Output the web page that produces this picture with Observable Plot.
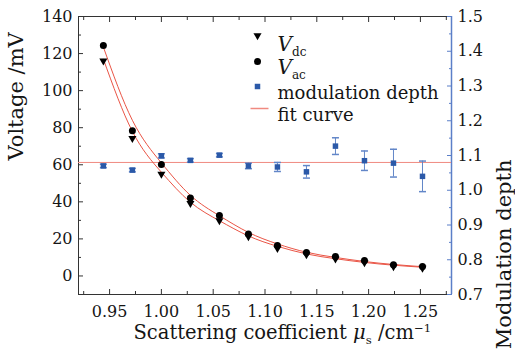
<!DOCTYPE html>
<html><head><meta charset="utf-8">
<script src="https://cdn.jsdelivr.net/npm/d3@7"></script>
<script src="https://cdn.jsdelivr.net/npm/@observablehq/plot@0.6"></script>
<style>
html,body{margin:0;padding:0;background:#fff;}
#chart{width:515px;height:352px;}
</style></head><body><div id="chart"></div>
<script>
// ---- data ----
const mu       = [0.944, 0.972, 1.000, 1.028, 1.056, 1.084, 1.112, 1.140, 1.168, 1.196, 1.224, 1.252];
const vdc      = [116.1, 74.2, 55.0, 39.2, 29.9, 21.2, 14.9, 11.5, 9.2, 7.2, 5.0, 4.3];
const vac      = [124.4, 78.4, 60.1, 42.1, 32.6, 22.7, 16.4, 12.6, 10.5, 8.3, 6.0, 5.1];
const modDepth = [1.070, 1.058, 1.099, 1.086, 1.101, 1.070, 1.067, 1.053, 1.127, 1.085, 1.078, 1.040];
const modErr   = [0.005, 0.005, 0.006, 0.005, 0.005, 0.008, 0.013, 0.018, 0.024, 0.028, 0.040, 0.044];
const fitAc    = [123.5, 84.0, 61.0, 43.5, 32.5, 23.5, 17.3, 12.8, 10.0, 7.8, 6.2, 5.0];
const fitDc    = [117.0, 78.0, 56.0, 39.8, 29.8, 21.6, 16.0, 11.9, 9.3, 7.3, 5.8, 4.7];
const modFit   = 1.08;

const xTicks     = [0.95, 1.00, 1.05, 1.10, 1.15, 1.20, 1.25];
const xMinor     = [0.925, 0.975, 1.025, 1.075, 1.125, 1.175, 1.225, 1.275];
const yTicks     = [0, 20, 40, 60, 80, 100, 120, 140];
const yMinor     = [-10, 10, 30, 50, 70, 90, 110, 130];
const rTicks     = [0.7, 0.8, 0.9, 1.0, 1.1, 1.2, 1.3, 1.4, 1.5];
const rMinor     = [0.75, 0.85, 0.95, 1.05, 1.15, 1.25, 1.35, 1.45];
const xDomain = [0.92, 1.28];
const yDomain = [-10, 140];
const rDomain = [0.7, 1.5];

const xTitle = "Scattering coefficient <i>μ</i><sub>s</sub> /cm<sup>−1</sup>";
const yTitle = "Voltage /mV";
const rTitle = "Modulation depth";
const legendDc = "<i>V</i><sub>dc</sub>";
const legendAc = "<i>V</i><sub>ac</sub>";
const legendMod = "modulation depth";
const legendFit = "fit curve";

// ---- rendering ----
const toV = m => yDomain[0] + (m - rDomain[0]) / (rDomain[1] - rDomain[0]) * (yDomain[1] - yDomain[0]);
const fromV = v => rDomain[0] + (v - yDomain[0]) / (yDomain[1] - yDomain[0]) * (rDomain[1] - rDomain[0]);

const data = mu.map((x, i) => ({x, dc: vdc[i], ac: vac[i], m: modDepth[i], e: modErr[i], fa: fitAc[i], fd: fitDc[i]}));

const blue = "#2b59a8", errBlue = "#6286c8", axisBlue = "#5b7fc8", red = "#ea5546", axisCol = "#333", txt = "#151515";
const hline = w => ({draw(ctx) { ctx.moveTo(-w / 2, 0); ctx.lineTo(w / 2, 0); }});
const blank = () => "";

const chart = Plot.plot({
  width: 515, height: 352,
  marginLeft: 78, marginRight: 64, marginTop: 16, marginBottom: 58,
  style: {fontFamily: "DejaVu Serif", fontSize: "16px", color: txt, background: "white"},
  x: {domain: xDomain},
  y: {domain: yDomain},
  marks: [
    Plot.frame({stroke: axisCol}),
    Plot.ruleX([xDomain[1]], {stroke: axisBlue, strokeWidth: 1.5}),
    Plot.ruleY([toV(modFit)], {stroke: "#f08a80"}),
    Plot.line(data, {x: "x", y: "fa", curve: "natural", stroke: red, strokeWidth: 1}),
    Plot.line(data, {x: "x", y: "fd", curve: "natural", stroke: red, strokeWidth: 1}),
    Plot.ruleX(data, {x: "x", y1: d => toV(d.m - d.e), y2: d => toV(d.m + d.e), stroke: errBlue}),
    Plot.dot(data, {x: "x", y: d => toV(d.m - d.e), symbol: hline(7), stroke: errBlue, fill: "none"}),
    Plot.dot(data, {x: "x", y: d => toV(d.m + d.e), symbol: hline(7), stroke: errBlue, fill: "none"}),
    Plot.dot(data, {x: "x", y: d => toV(d.m), symbol: "square", r: 3.1, fill: blue}),
    Plot.dot(data, {x: "x", y: "ac", r: 3.5, fill: "black"}),
    Plot.dot(data, {x: "x", y: "dc", symbol: "triangle", rotate: 180, r: 3, fill: "black"}),

    Plot.axisY(yTicks, {anchor: "left", tickSize: -5, tickPadding: 11, stroke: axisCol, fill: txt, fontSize: 16, label: null}),
    Plot.axisY(yMinor, {anchor: "left", tickSize: -3, tickFormat: blank, stroke: axisCol, label: null}),
    Plot.axisX(xTicks, {anchor: "bottom", tickSize: -5, tickPadding: 16, tickFormat: d3.format(".2f"), stroke: axisCol, fill: txt, fontSize: 16, label: null}),
    Plot.axisX(xMinor, {anchor: "bottom", tickSize: -3, tickFormat: blank, stroke: axisCol, label: null}),
    Plot.axisX(xTicks, {anchor: "top", tickSize: -5, tickFormat: blank, stroke: axisCol, label: null}),
    Plot.axisX(xMinor, {anchor: "top", tickSize: -3, tickFormat: blank, stroke: axisCol, label: null}),
    Plot.axisY(rTicks.map(toV), {anchor: "right", tickSize: -5, tickPadding: 11, tickFormat: v => fromV(v).toFixed(1), stroke: axisBlue, fill: txt, fontSize: 16, label: null}),
    Plot.axisY(rMinor.map(toV), {anchor: "right", tickSize: -3, tickFormat: blank, stroke: axisBlue, label: null}),

    // legend
    Plot.dot([0], {frameAnchor: "top-left", dx: 179, dy: 19, symbol: "triangle", rotate: 180, r: 3, fill: "black"}),
    Plot.dot([0], {frameAnchor: "top-left", dx: 179, dy: 45, r: 3.5, fill: "black"}),
    Plot.dot([0], {frameAnchor: "top-left", dx: 179, dy: 70, symbol: "square", r: 3.1, fill: blue}),
    Plot.dot([0], {frameAnchor: "top-left", dx: 181, dy: 92, symbol: hline(18), stroke: "#f08a80", fill: "none"}),
    Plot.text([legendDc], {frameAnchor: "top-left", dx: 199, dy: 20, textAnchor: "start", fontSize: 20, fill: txt, className: "rich"}),
    Plot.text([legendAc], {frameAnchor: "top-left", dx: 199, dy: 43, textAnchor: "start", fontSize: 20, fill: txt, className: "rich"}),
    Plot.text([legendMod], {frameAnchor: "top-left", dx: 199, dy: 70, textAnchor: "start", fontSize: 18, fill: txt}),
    Plot.text([legendFit], {frameAnchor: "top-left", dx: 199, dy: 92, textAnchor: "start", fontSize: 18, fill: txt}),

    // titles
    Plot.text([yTitle], {frameAnchor: "left", dx: -62, dy: 5, rotate: -90, fontSize: 21, fill: txt, letterSpacing: "0.6px"}),
    Plot.text([rTitle], {frameAnchor: "right", dx: 53, dy: 4, rotate: -90, fontSize: 21, fill: txt, letterSpacing: "0.6px"}),
    Plot.text([xTitle], {frameAnchor: "bottom-left", dx: 55, dy: 44, textAnchor: "start", fontSize: 19.5, fill: txt, className: "rich"})
  ]
});
document.getElementById("chart").appendChild(chart);

// rich text (italic / sub / superscript) inside text marks
const svgns = "http://www.w3.org/2000/svg";
chart.querySelectorAll("g.rich text").forEach(el => {
  const g = el.closest("g.rich");
  const fs = parseFloat(g.getAttribute("font-size")) || 16;
  const raw = el.textContent;
  el.textContent = "";
  let shift = 0;
  for (const part of raw.split(/(<i>.*?<\/i>|<sub>.*?<\/sub>|<sup>.*?<\/sup>)/)) {
    if (!part) continue;
    const m = part.match(/^<(i|sub|sup)>(.*)<\/\1>$/);
    const t = document.createElementNS(svgns, "tspan");
    let target = 0;
    if (m) {
      t.textContent = m[2];
      if (m[1] === "i") t.setAttribute("font-style", "italic");
      if (m[1] === "sub") { t.setAttribute("font-size", fs * 0.6); target = fs * 0.28; }
      if (m[1] === "sup") { t.setAttribute("font-size", fs * 0.6); target = -fs * 0.33; }
    } else t.textContent = part;
    t.setAttribute("dy", target - shift);
    shift = target;
    el.appendChild(t);
  }
});
</script></body></html>
